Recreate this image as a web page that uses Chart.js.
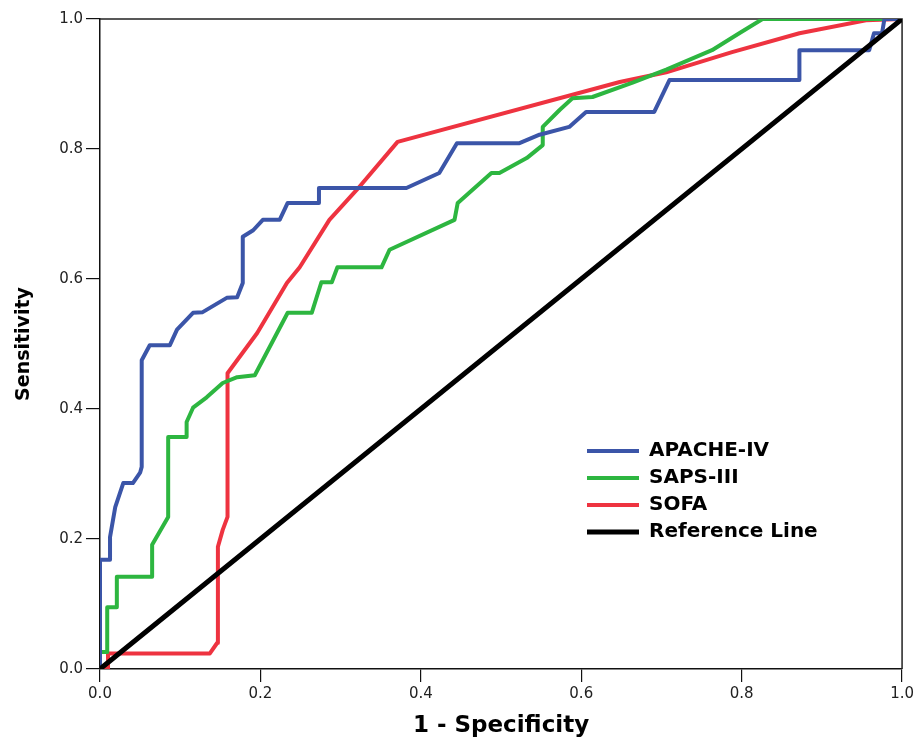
<!DOCTYPE html>
<html><head><meta charset="utf-8">
<script src="https://cdn.jsdelivr.net/npm/chart.js@4.4.1/dist/chart.umd.min.js"></script>
<style>html,body{margin:0;padding:0;background:#fff;}canvas{display:block;}</style>
</head><body>
<canvas id="c" width="917" height="740"></canvas>
<script>
const seriesNames = ['APACHE-IV', 'SAPS-III', 'SOFA', 'Reference Line'];

const apacheX = [0, 0, 0.0125, 0.0125, 0.019, 0.029, 0.041, 0.050, 0.052, 0.052,
  0.062, 0.087, 0.096, 0.116, 0.128, 0.158, 0.171, 0.178, 0.178, 0.191,
  0.203, 0.224, 0.234, 0.273, 0.273, 0.382, 0.423, 0.445, 0.523, 0.548,
  0.585, 0.606, 0.691, 0.710, 0.872, 0.872, 0.959, 0.965, 0.975, 0.978, 1];
const apacheY = [0, 0.168, 0.168, 0.203, 0.249, 0.286, 0.286, 0.302, 0.311, 0.475,
  0.498, 0.498, 0.522, 0.548, 0.549, 0.571, 0.572, 0.594, 0.665, 0.675,
  0.691, 0.691, 0.717, 0.717, 0.740, 0.740, 0.763, 0.809, 0.809, 0.822,
  0.834, 0.857, 0.857, 0.906, 0.906, 0.952, 0.952, 0.978, 0.978, 1, 1];

const sapsX = [0, 0, 0.009, 0.009, 0.021, 0.021, 0.065, 0.065, 0.085, 0.085,
  0.108, 0.108, 0.116, 0.133, 0.153, 0.171, 0.193, 0.234, 0.264, 0.276,
  0.289, 0.296, 0.351, 0.361, 0.442, 0.446, 0.488, 0.498, 0.532, 0.552,
  0.552, 0.573, 0.589, 0.614, 0.664, 0.706, 0.763, 0.797, 0.826, 1];
const sapsY = [0, 0.026, 0.026, 0.095, 0.095, 0.142, 0.142, 0.191, 0.234, 0.357,
  0.357, 0.380, 0.402, 0.418, 0.440, 0.449, 0.452, 0.548, 0.548, 0.595,
  0.595, 0.618, 0.618, 0.645, 0.691, 0.717, 0.763, 0.763, 0.786, 0.806,
  0.834, 0.860, 0.878, 0.880, 0.902, 0.922, 0.952, 0.978, 1, 1];

const sofaX = [0, 0.01, 0.01, 0.137, 0.146, 0.147, 0.147, 0.153, 0.159, 0.159,
  0.196, 0.233, 0.249, 0.286, 0.320, 0.371, 0.648, 0.706, 0.788, 0.872, 0.955, 1];
const sofaY = [0, 0, 0.024, 0.024, 0.040, 0.049, 0.188, 0.214, 0.234, 0.455,
  0.517, 0.594, 0.618, 0.691, 0.737, 0.811, 0.903, 0.918, 0.949, 0.978, 0.998, 1];

const refX = [0, 1];
const refY = [0, 1];

const axisTicks = [0, 0.2, 0.4, 0.6, 0.8, 1.0];
const xTitle = '1 - Specificity';
const yTitle = 'Sensitivity';

function pts(xs, ys) { return xs.map((x, i) => ({ x: x, y: ys[i] })); }

const colors = ['#3B55A8', '#2DB640', '#EE3340', '#000000'];

const frame = {
  id: 'frame',
  beforeDatasetsDraw(chart) {
    const a = chart.chartArea, ctx = chart.ctx;
    ctx.save();
    ctx.strokeStyle = '#222';
    ctx.lineWidth = 1.5;
    ctx.beginPath();
    ctx.moveTo(a.left, a.top);
    ctx.lineTo(a.right, a.top);
    ctx.lineTo(a.right, a.bottom);
    ctx.stroke();
    ctx.restore();
  }
};

const legendPlace = {
  id: 'legendPlace',
  afterLayout(chart) {
    const l = chart.legend;
    if (!l) return;
    const w = l.width, h = l.height;
    l.left = 580; l.top = 434; l.right = 580 + w; l.bottom = 434 + h;
  }
};

const tickFont = { family: 'DejaVu Sans', size: 15 };

new Chart(document.getElementById('c'), {
  type: 'line',
  data: {
    datasets: [
      { label: seriesNames[0], data: pts(apacheX, apacheY), borderColor: colors[0], backgroundColor: colors[0], borderWidth: 4, order: 1 },
      { label: seriesNames[1], data: pts(sapsX, sapsY), borderColor: colors[1], backgroundColor: colors[1], borderWidth: 4, order: 1 },
      { label: seriesNames[2], data: pts(sofaX, sofaY), borderColor: colors[2], backgroundColor: colors[2], borderWidth: 4, order: 1 },
      { label: seriesNames[3], data: pts(refX, refY), borderColor: colors[3], backgroundColor: colors[3], borderWidth: 5, order: 0 }
    ]
  },
  options: {
    responsive: false,
    animation: false,
    devicePixelRatio: 1,
    parsing: false,
    elements: {
      point: { radius: 0, hoverRadius: 0 },
      line: { tension: 0, borderCapStyle: 'round', borderJoinStyle: 'round', fill: false }
    },
    layout: { padding: { top: 19, right: 14, left: 0, bottom: 0 } },
    scales: {
      x: {
        type: 'linear', min: 0, max: 1,
        afterBuildTicks: s => { s.ticks = axisTicks.map(v => ({ value: v })); },
        afterFit: s => { s.height = 71; },
        ticks: { font: tickFont, color: '#222', padding: 3, maxRotation: 0, autoSkip: false,
          callback: v => Number(v).toFixed(1) },
        grid: { drawOnChartArea: false, drawTicks: true, tickLength: 13, color: '#111', lineWidth: 1.2 },
        border: { display: true, color: '#111', width: 1.5 },
        title: { display: true, text: xTitle, color: '#000',
          font: { family: 'DejaVu Sans', size: 23, weight: 'bold', lineHeight: 1.2 },
          padding: { top: 0, bottom: 0 } }
      },
      y: {
        type: 'linear', min: 0, max: 1,
        afterBuildTicks: s => { s.ticks = axisTicks.map(v => ({ value: v })); },
        afterFit: s => { s.width = 100; },
        ticks: { font: tickFont, color: '#222', padding: 3, autoSkip: false,
          callback: v => Number(v).toFixed(1) },
        grid: { drawOnChartArea: false, drawTicks: true, tickLength: 14, color: '#111', lineWidth: 1.2 },
        border: { display: true, color: '#111', width: 1.5 },
        title: { display: true, text: yTitle, color: '#000',
          font: { family: 'DejaVu Sans', size: 19, weight: 'bold', lineHeight: 1.2 },
          padding: { top: 13, bottom: 0 } }
      }
    },
    plugins: {
      tooltip: { enabled: false },
      legend: {
        display: true,
        position: 'chartArea',
        align: 'start',
        labels: {
          usePointStyle: true,
          pointStyle: 'line',
          pointStyleWidth: 52,
          padding: 7,
          color: '#000',
          font: { family: 'DejaVu Sans', size: 20, weight: 'bold' },
          sort: (a, b) => a.datasetIndex - b.datasetIndex
        }
      }
    }
  },
  plugins: [frame, legendPlace]
});
</script>
</body></html>
